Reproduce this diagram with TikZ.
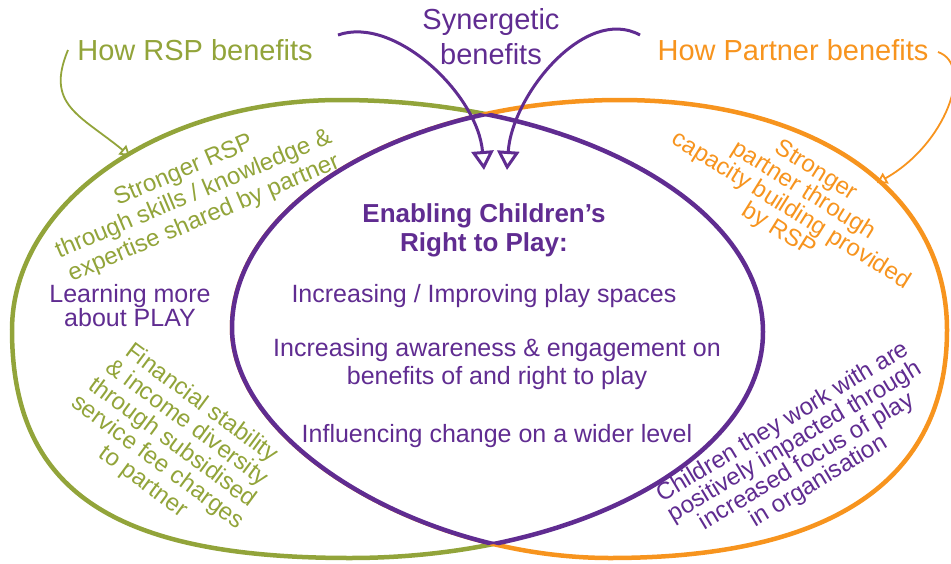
\documentclass[tikz,border=0pt]{standalone}
\usepackage{fontspec}
\setmainfont{Liberation Sans}
\usetikzlibrary{arrows.meta}
\definecolor{rspgreen}{RGB}{146,164,58}
\definecolor{porange}{RGB}{247,148,30}
\definecolor{spurple}{RGB}{96,44,145}
\def\greenpath{(12,330) .. controls (12,203) and (159,100) .. (340,100) .. controls (574,100) and (763,204) .. (763,332) .. controls (763,457) and (578,558) .. (350,558) .. controls (113,558) and (12,490) .. cycle}
\def\orangepath{(232,328) .. controls (232,202) and (406,100) .. (620,100) .. controls (816,100) and (947,192) .. (947,330) .. controls (947,480) and (832,558) .. (610,558) .. controls (421,558) and (232,443) .. cycle}
\begin{document}
\begin{tikzpicture}[x=1pt,y=-1pt,
  ring/.style={line width=4.5pt},
  lbl/.style={font=\fontsize{29}{35}\selectfont, inner sep=0pt, align=center},
  body/.style={font=\fontsize{25}{28}\selectfont, inner sep=0pt, align=center, text=spurple},
  side/.style={font=\fontsize{24}{24.5}\selectfont, inner sep=0pt, align=center},
  thinarrow/.style={line width=1.8pt, -{Triangle[open, length=10pt, width=12pt]}},
  boldarrow/.style={line width=3pt, -{Triangle[open, length=19pt, width=22pt]}}]
\useasboundingbox (0,0) rectangle (951,563);
% rings
\draw[ring, rspgreen] \greenpath;
\draw[ring, porange, fill=white] \orangepath;
\begin{scope}
  \clip \orangepath;
  \fill[white] \greenpath;
  \draw[ring, spurple] \greenpath;
\end{scope}
\begin{scope}
  \clip \greenpath;
  \draw[ring, spurple] \orangepath;
\end{scope}
% labels
\node[lbl, text=rspgreen, anchor=base] (howrsp) at (195,60) {How RSP benefits};
\node[lbl, text=porange, anchor=base] (howpartner) at (793,60) {How Partner benefits};
\node[lbl, text=spurple] (syn) at (491,37) {Synergetic\\benefits};
\node[font=\bfseries\fontsize{26}{29}\selectfont, text=spurple, align=center, inner sep=0pt] (title) at (484,230) {Enabling Children’s\\Right to Play:};
\node[body, anchor=base] (spaces) at (484,302) {Increasing / Improving play spaces};
\node[body] (aware) at (497,364.5) {Increasing awareness \& engagement on\\benefits of and right to play};
\node[body, anchor=base] (wider) at (497,442) {Influencing change on a wider level};
\node[body, font=\fontsize{25}{24}\selectfont] (learn) at (130,306) {Learning more\\about PLAY};
\node[side, text=rspgreen, rotate=23, font=\fontsize{24}{26}\selectfont] (strongrsp) at (194,195) {Stronger RSP\\through skills / knowledge \&\\expertise shared by partner};
\node[side, text=porange, rotate=-32, font=\fontsize{24}{23.5}\selectfont] (strongpartner) at (797,201) {Stronger\\partner through\\capacity building provided\\by RSP};
\node[side, text=spurple, rotate=31, font=\fontsize{24}{23}\selectfont] (children) at (801,452) {Children they work with are\\positively impacted through\\increased focus of play\\in organisation};
\node[side, text=rspgreen, rotate=-36.5] (financial) at (172,443) {Financial stability\\\& income diversity\\through subsidised\\service fee charges\\to partner};
% arrows
\coordinate (gs) at (68,50);
\coordinate (gt) at (130,156);
\coordinate (os) at (938,52);
\coordinate (ot) at (877,183);
\coordinate (ps1) at (338,35);
\coordinate (pt1) at (484,170);
\coordinate (ps2) at (640,35);
\coordinate (pt2) at (507,170);
\draw[thinarrow, rspgreen] (gs) .. controls (45,105) and (80,115) .. (gt);
\draw[thinarrow, porange] (os) .. controls (975,65) and (945,145) .. (ot);
\draw[boldarrow, spurple] (ps1) .. controls (395,15) and (478,95) .. (pt1);
\draw[boldarrow, spurple] (ps2) .. controls (585,5) and (512,95) .. (pt2);
\end{tikzpicture}
\end{document}
